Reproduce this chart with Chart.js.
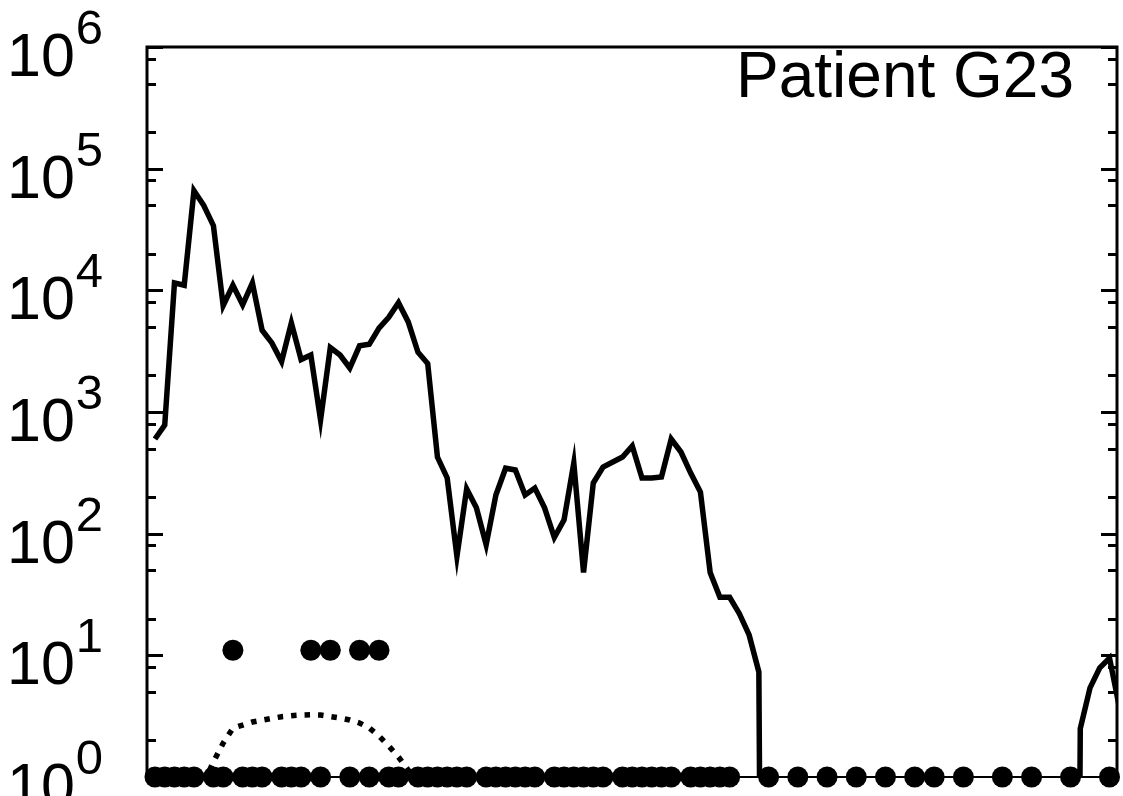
<!DOCTYPE html>
<html>
<head>
<meta charset="utf-8">
<script src="https://cdn.jsdelivr.net/npm/chart.js@4.4.1/dist/chart.umd.min.js"></script>
<style>
  body { margin: 0; background: #fff; }
  #wrap { width: 1123px; height: 796px; }
</style>
</head>
<body>
<div id="wrap"><canvas id="myChart" width="1123" height="796"></canvas></div>
<script>
// viral load, one value per day (day 0 .. 99); 0 = below the axis floor
const loadValues = [
   600, 780, 11500, 11000, 66000, 50000, 34000, 7500, 11000, 7600,
   11500, 4700, 3700, 2600, 5400, 2700, 2940, 860, 3380, 2940,
   2300, 3500, 3600, 4900, 6000, 7900, 5500, 3100, 2500, 426,
   287, 65, 233, 163, 81, 208, 345, 334, 208, 237,
   163, 93, 130, 380, 48, 261, 353, 388, 427, 526,
   287, 287, 292, 600, 469, 315, 220, 48, 30, 30,
   22, 14.7, 7.3, 0, 0, 0, 0, 0, 0, 0,
   0, 0, 0, 0, 0, 0, 0, 0, 0, 0,
   0, 0, 0, 0, 0, 0, 0, 0, 0, 0,
   0, 0, 0, 0, 0, 2.5, 5.4, 7.9, 9.5, 3.8
];

// dotted curve
const modelDays = [5, 6, 7, 8, 9, 10, 11, 12, 13, 14, 15, 16, 17, 18, 19, 20, 21, 22, 23, 24, 25, 26, 27];
const modelValues = [0.9, 1.33, 1.9, 2.52, 2.67, 2.83, 2.93, 3.03, 3.13, 3.19, 3.23, 3.25, 3.23,
   3.14, 3.05, 2.94, 2.78, 2.53, 2.17, 1.8, 1.46, 1.14, 0.88];

// sampled days (filled circles)
const sampleDays = [0, 1, 2, 3, 4, 6, 7, 8, 9, 10, 11, 13, 14, 15, 16, 17, 18, 20, 21, 22, 23, 24, 25,
   27, 28, 29, 30, 31, 32, 34, 35, 36, 37, 38, 39, 41, 42, 43, 44, 45, 46,
   48, 49, 50, 51, 52, 53, 55, 56, 57, 58, 59, 63, 66, 69, 72, 75, 78, 80, 83, 87, 90, 94, 98];
const sampleValues = [1, 1, 1, 1, 1, 1, 1, 11, 1, 1, 1, 1, 1, 1, 11, 1, 11, 1, 11, 1, 11, 1, 1,
   1, 1, 1, 1, 1, 1, 1, 1, 1, 1, 1, 1, 1, 1, 1, 1, 1, 1,
   1, 1, 1, 1, 1, 1, 1, 1, 1, 1, 1, 1, 1, 1, 1, 1, 1, 1, 1, 1, 1, 1, 1];

const yExponents = [0, 1, 2, 3, 4, 5, 6];
const minorSteps = [2, 5, 8];
const titleText = 'Patient G23';

const FONT = '"Liberation Sans", Arial, Helvetica, sans-serif';

const framePlugin = {
   id: 'frame',
   beforeDatasetsDraw(chart) {
      const { ctx, chartArea: a, scales: { y } } = chart;
      ctx.save();
      ctx.strokeStyle = '#000';
      ctx.lineWidth = 3;
      ctx.beginPath();
      ctx.moveTo(a.left, a.bottom);
      ctx.lineTo(a.left, a.top);
      ctx.lineTo(a.right, a.top);
      ctx.lineTo(a.right, a.bottom);
      ctx.stroke();
      ctx.lineWidth = 2;
      ctx.beginPath();
      ctx.moveTo(a.left, a.bottom);
      ctx.lineTo(a.right, a.bottom);
      ctx.stroke();

      // inward ticks on both sides
      ctx.lineWidth = 3;
      const tick = (v, len) => {
         const py = Math.round(y.getPixelForValue(v)) + 0.5;
         ctx.beginPath();
         ctx.moveTo(a.left, py);
         ctx.lineTo(a.left + len, py);
         ctx.moveTo(a.right, py);
         ctx.lineTo(a.right - len, py);
         ctx.stroke();
      };
      yExponents.forEach(k => {
         tick(Math.pow(10, k), 16);
         if (k < 6) minorSteps.forEach(m => tick(m * Math.pow(10, k), 9));
      });
      ctx.restore();
   },
   afterDraw(chart) {
      const { ctx, chartArea: a, scales: { y } } = chart;
      ctx.save();
      ctx.fillStyle = '#000';
      ctx.textAlign = 'left';
      ctx.textBaseline = 'alphabetic';
      yExponents.forEach(k => {
         const py = y.getPixelForValue(Math.pow(10, k));
         ctx.font = `61px ${FONT}`;
         ctx.fillText('10', 7, py + 29);
         const w = ctx.measureText('10').width;
         ctx.font = `49px ${FONT}`;
         ctx.fillText(String(k), 8 + w, py - 3);
      });
      ctx.font = `64px ${FONT}`;
      ctx.textAlign = 'right';
      ctx.fillText(titleText, a.right - 43, a.top + 50);
      ctx.restore();
   }
};

const config = {
   type: 'line',
   data: {
      datasets: [
         {
            // circles
            data: sampleDays.map((d, i) => ({ x: d, y: sampleValues[i] })),
            showLine: false,
            pointRadius: 10.5,
            pointBackgroundColor: '#000',
            pointBorderWidth: 0,
            clip: false,
            order: 0
         },
         {
            // zero values are sent far below the axis floor, so the drop is vertical
            data: loadValues.map((v, i) => ({ x: i, y: v > 0 ? v : 1e-12 })),
            borderColor: '#000',
            borderWidth: 5.5,
            borderJoinStyle: 'miter',
            borderCapStyle: 'butt',
            tension: 0,
            pointRadius: 0,
            order: 1
         },
         {
            data: modelDays.map((d, i) => ({ x: d, y: modelValues[i] })),
            borderColor: '#000',
            borderWidth: 5.5,
            borderDash: [5.5, 8],
            borderCapStyle: 'butt',
            tension: 0,
            pointRadius: 0,
            order: 2
         }
      ]
   },
   options: {
      responsive: false,
      animation: false,
      events: [],
      layout: {
         autoPadding: false,
         padding: { top: 47, right: 6, left: 0, bottom: 0 }
      },
      scales: {
         x: {
            type: 'linear',
            min: -0.82,
            max: 98.77,
            ticks: { display: false },
            grid: { display: false },
            border: { display: false },
            afterFit: s => { s.height = 19; }
         },
         y: {
            type: 'logarithmic',
            min: 1,
            max: 1e6,
            ticks: { display: false },
            grid: { display: false },
            border: { display: false },
            afterFit: s => { s.width = 147; }
         }
      },
      plugins: {
         legend: { display: false },
         tooltip: { enabled: false }
      }
   },
   plugins: [framePlugin]
};

new Chart(document.getElementById('myChart'), config);
</script>
</body>
</html>
